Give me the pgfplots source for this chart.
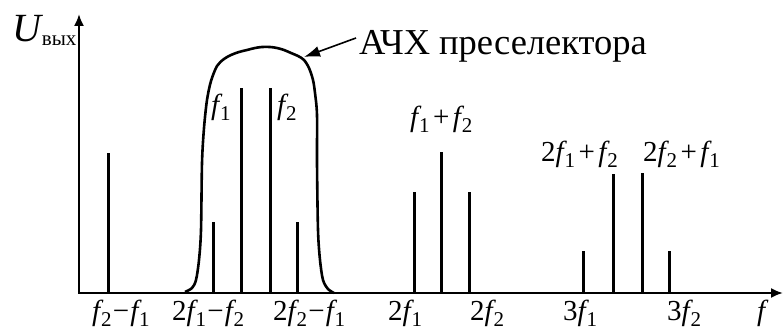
\documentclass[border=0pt]{standalone}
\usepackage{fontspec}
\setmainfont{Liberation Serif}
\usepackage{pgfplots}
\pgfplotsset{compat=1.18}
\usetikzlibrary{arrows.meta}
\newcommand\F[1]{{\itshape f}\kern0.03em\raisebox{-0.2em}{\fontsize{21}{21}\selectfont #1}}
\newcommand\mi{\kern0.04em−\kern0.04em}
\newcommand\pl{\kern0.12em+\kern0.12em}
\begin{document}
\begin{tikzpicture}
\begin{axis}[
  x=1pt, y=1pt, xmin=0, xmax=783, ymin=-38, ymax=293,
  hide axis, clip=false, scale only axis,
  every axis plot/.append style={black, line cap=butt},
  nodes={inner sep=0pt, anchor=base west, font=\fontsize{29}{34}\selectfont},
]
\coordinate (sw) at (axis cs:0,-38);
\coordinate (ne) at (axis cs:783,293);
% axes
\draw[line width=2pt, -{Latex[length=12pt,width=10pt]}] (axis cs:78,0) -- (axis cs:783,0);
\draw[line width=2pt, -{Latex[length=12pt,width=10pt]}] (axis cs:79,-1) -- (axis cs:79,279);
% spectral lines
\addplot[line width=3pt] coordinates {(108,0) (108,140)};
\addplot[line width=3pt] coordinates {(213,0) (213,71)};
\addplot[line width=3pt] coordinates {(241,0) (241,205)};
\addplot[line width=3pt] coordinates {(270,0) (270,205)};
\addplot[line width=3pt] coordinates {(297,0) (297,71)};
\addplot[line width=3pt] coordinates {(414,0) (414,101)};
\addplot[line width=3pt] coordinates {(441,0) (441,141)};
\addplot[line width=3pt] coordinates {(469,0) (469,101)};
\addplot[line width=3pt] coordinates {(583,0) (583,42)};
\addplot[line width=3pt] coordinates {(613,0) (613,119)};
\addplot[line width=3pt] coordinates {(642,0) (642,120)};
\addplot[line width=3pt] coordinates {(669,0) (669,42)};
% preselector response
\addplot[line width=2.6pt, smooth, tension=0.5] coordinates {
 (185,1) (192,5) (196,13) (199,33) (201,63) (202,130) (204,165) (207,193)
 (211,212) (217,227) (224,234) (231,238) (239,241) (247,243) (255,245)
 (262,246) (270,246) (277,245) (284,243) (291,240) (298,237) (304,233)
 (309,225) (313,213) (315,200) (317,178) (317,130) (318,63) (320,33)
 (323,13) (328,4) (334,0)};
% annotation
\draw[line width=1.6pt, -{Latex[length=16pt,width=11pt]}] (axis cs:356,255) -- (axis cs:304,236);
\node[font=\fontsize{36.5}{42}\selectfont] at (axis cs:359,238) {АЧХ преселектора};
\node[font=\fontsize{40}{46}\selectfont] at (axis cs:12,251) {{\itshape U}\kern0.02em\raisebox{-0.08em}{\fontsize{21}{24}\selectfont вых}};
% labels on lines
\node at (axis cs:211,178) {\F{1}};
\node at (axis cs:277,178) {\F{2}};
\node at (axis cs:410,166) {\F{1}\pl\F{2}};
\node at (axis cs:541,131) {2\F{1}\pl\F{2}};
\node at (axis cs:643,131) {2\F{2}\pl\F{1}};
% tick labels
\node at (axis cs:92,-28) {\F{2}\mi\F{1}};
\node at (axis cs:172,-28) {2\F{1}\mi\F{2}};
\node at (axis cs:273,-28) {2\F{2}\mi\F{1}};
\node at (axis cs:388,-28) {2\F{1}};
\node at (axis cs:470,-28) {2\F{2}};
\node at (axis cs:563,-28) {3\F{1}};
\node at (axis cs:667,-28) {3\F{2}};
\node at (axis cs:757,-28) {{\itshape f}};
\end{axis}
\pgfresetboundingbox
\useasboundingbox (sw) rectangle (ne);
\end{tikzpicture}
\end{document}
